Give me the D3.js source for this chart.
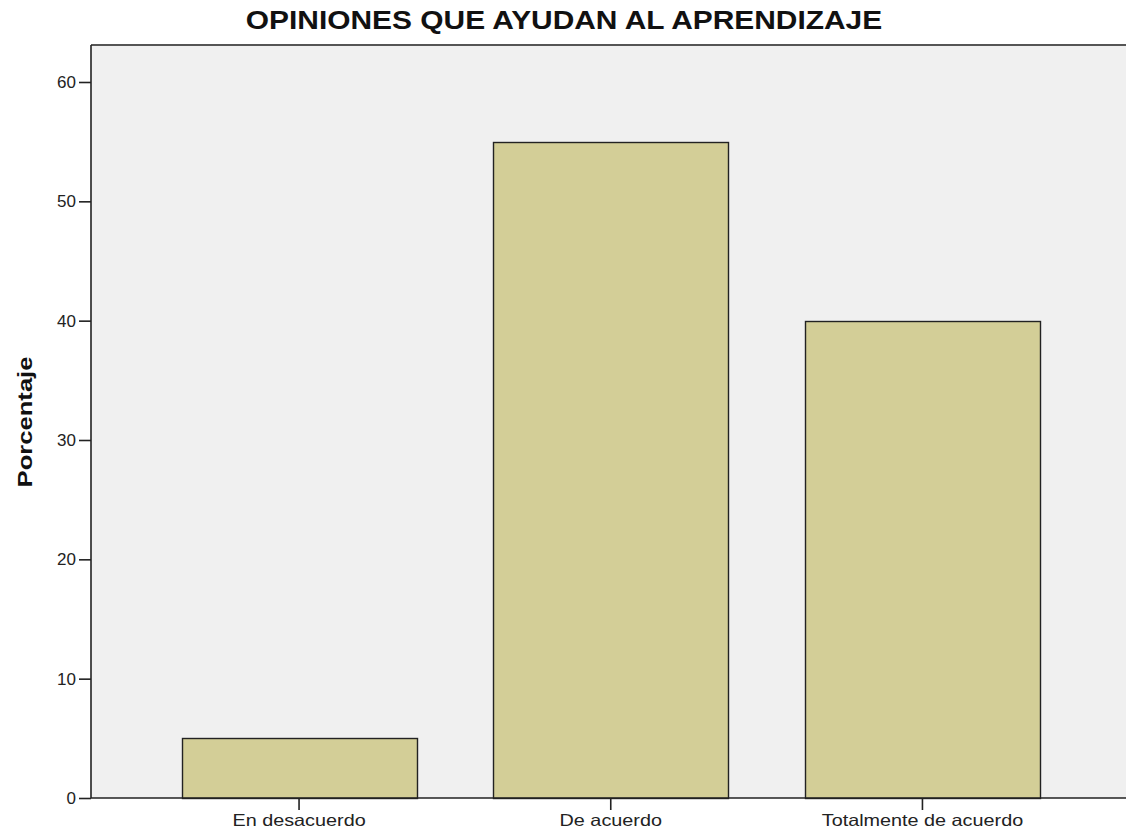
<!DOCTYPE html>
<html>
<head>
<meta charset="utf-8">
<script src="https://cdn.jsdelivr.net/npm/d3@7"></script>
<style>
  body { margin: 0; background: #fff; }
  text { font-family: "Liberation Sans", Arial, sans-serif; }
</style>
</head>
<body>
<svg id="chart" width="1126" height="834"></svg>
<script>
var categories = ["En desacuerdo", "De acuerdo", "Totalmente de acuerdo"];
var percentages = [5, 55, 40];
var yTicks = [0, 10, 20, 30, 40, 50, 60];

var svg = d3.select("#chart");

var plotLeft = 91, plotTop = 45, plotBottom = 798, plotRight = 1126;

// widen text glyphs a bit, the original renderer draws them wider
function stretch(sel, factor) {
	sel.each(function() {
		var w = this.getComputedTextLength();
		d3.select(this)
			.attr("textLength", w * factor)
			.attr("lengthAdjust", "spacingAndGlyphs");
	});
}

var y = d3.scaleLinear()
	.domain([0, 63.1])
	.range([plotBottom, plotTop]);

var x = d3.scaleBand()
	.domain(categories)
	.range([143.2, 1078.3])
	.paddingInner(0.246)
	.paddingOuter(0.123);

// plot background
svg.append("rect")
	.attr("x", plotLeft)
	.attr("y", plotTop)
	.attr("width", plotRight - plotLeft)
	.attr("height", plotBottom - plotTop)
	.attr("fill", "#f0f0f0");

// top frame line
svg.append("line")
	.attr("x1", plotLeft).attr("x2", plotRight)
	.attr("y1", plotTop).attr("y2", plotTop)
	.attr("stroke", "#555")
	.attr("stroke-width", 2);

// bars
svg.append("g")
	.selectAll("rect")
	.data(percentages)
	.join("rect")
	.attr("x", function(d, i) { return Math.round(x(categories[i])) + 0.5; })
	.attr("y", function(d) { return Math.round(y(d)) + 0.5; })
	.attr("width", Math.round(x.bandwidth()))
	.attr("height", function(d) { return plotBottom - Math.round(y(d)); })
	.attr("fill", "#d3ce97")
	.attr("stroke", "#222")
	.attr("stroke-width", 1.4);

// y axis
var yAxis = svg.append("g")
	.attr("transform", "translate(" + plotLeft + ",0)")
	.call(d3.axisLeft(y).tickValues(yTicks).tickSize(12).tickPadding(3).tickFormat(d3.format("d")));
yAxis.select(".domain").attr("d", "M0," + plotTop + "V" + plotBottom).attr("stroke", "#222").attr("stroke-width", 1.6);
yAxis.selectAll(".tick line").attr("stroke", "#222").attr("stroke-width", 1.6);
yAxis.selectAll("text").attr("font-size", 17).attr("fill", "#222")
	.attr("font-family", "'Liberation Sans', Arial, sans-serif");

// x axis
var xAxis = svg.append("g")
	.attr("transform", "translate(0," + plotBottom + ")")
	.call(d3.axisBottom(x).tickSize(12).tickPadding(4));
xAxis.select(".domain").attr("d", "M" + plotLeft + ",0H" + plotRight).attr("stroke", "#222").attr("stroke-width", 1.6);
xAxis.selectAll(".tick line").attr("stroke", "#222").attr("stroke-width", 1.6);
xAxis.selectAll("text").attr("font-size", 16.5).attr("fill", "#222")
	.attr("font-family", "'Liberation Sans', Arial, sans-serif");
stretch(xAxis.selectAll("text"), 1.2);

// title
var title = svg.append("text")
	.attr("x", 564)
	.attr("y", 29)
	.attr("text-anchor", "middle")
	.attr("font-size", 26)
	.attr("font-weight", "bold")
	.attr("fill", "#111")
	.text("OPINIONES QUE AYUDAN AL APRENDIZAJE");
stretch(title, 1.15);

// y label
var yLabel = svg.append("text")
	.attr("transform", "translate(32,422) rotate(-90)")
	.attr("text-anchor", "middle")
	.attr("font-size", 20)
	.attr("font-weight", "bold")
	.attr("fill", "#111")
	.text("Porcentaje");
stretch(yLabel, 1.28);
</script>
</body>
</html>
